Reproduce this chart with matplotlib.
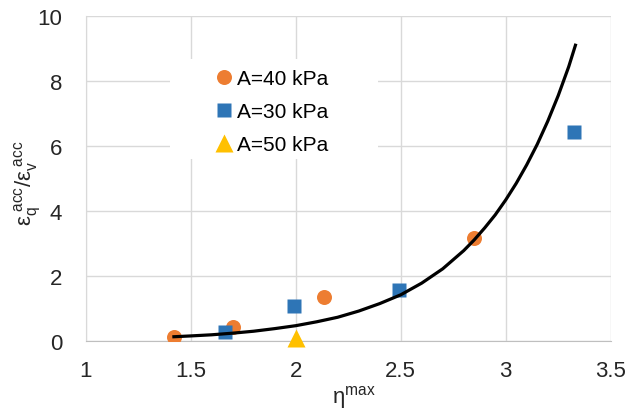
import matplotlib
matplotlib.use('Agg')
from matplotlib import pyplot as plt
from matplotlib.patches import Rectangle

plt.rcParams['font.family'] = ['Liberation Sans', 'DejaVu Sans']
plt.rcParams['mathtext.fontset'] = 'custom'
plt.rcParams['mathtext.rm'] = 'Liberation Sans'
plt.rcParams['mathtext.it'] = 'Liberation Sans'
plt.rcParams['mathtext.default'] = 'regular'

# A=40 kPa
x40 = [1.42, 1.70, 2.135, 2.85]
y40 = [0.12, 0.43, 1.36, 3.17]
# A=30 kPa
x30 = [1.665, 1.99, 2.49, 3.325]
y30 = [0.28, 1.09, 1.57, 6.44]
# A=50 kPa
x50 = [2.0]
y50 = [0.1]

# trend line
xfit = [1.42, 1.5, 1.6, 1.7, 1.8, 1.9, 2.0, 2.1, 2.2, 2.3, 2.4, 2.5, 2.6, 2.7, 2.8,
        2.85, 2.9, 2.95, 3.0, 3.05, 3.1, 3.15, 3.2, 3.25, 3.3, 3.332]
yfit = [0.13, 0.155, 0.19, 0.24, 0.30, 0.38, 0.47, 0.59, 0.73, 0.92, 1.15, 1.42, 1.78,
        2.22, 2.78, 3.11, 3.48, 3.88, 4.34, 4.85, 5.42, 6.05, 6.76, 7.55, 8.44, 9.1]

xticks = [1, 1.5, 2, 2.5, 3, 3.5]
xlabels = ['1', '1.5', '2', '2.5', '3', '3.5']
yticks = [0, 2, 4, 6, 8, 10]

txt = '#262626'

fig = plt.figure(figsize=(6.43, 4.14), dpi=100)
ax = fig.add_axes([0.1333, 0.174, 0.8165, 0.785])

ax.plot(x40, y40, 'o', color='#ED7D31', ms=10.8, mec='none', label='A=40 kPa', zorder=3)
ax.plot(x30, y30, 's', color='#2E75B6', ms=10, mec='none', label='A=30 kPa', zorder=3)
ax.plot(x50, y50, '^', color='#FFC000', ms=13.5, mec='none', label='A=50 kPa', zorder=3,
        clip_on=False)
ax.plot(xfit, yfit, '-', color='black', lw=2.3, zorder=4, solid_joinstyle='round')

ax.set_xlim(1, 3.5)
ax.set_ylim(0, 10)
ax.set_xticks(xticks)
ax.set_xticklabels(xlabels)
ax.set_yticks(yticks)
ax.grid(True, color='#d9d9d9', lw=1)
ax.set_axisbelow(True)
ax.tick_params(length=0, labelsize=16, colors=txt)
ax.tick_params(axis='x', pad=14)
ax.tick_params(axis='y', pad=17)
for s in ['top', 'right']:
    ax.spines[s].set_visible(False)
ax.spines['left'].set_color('#d9d9d9')
ax.spines['bottom'].set_color('#bfbfbf')

ax.set_xlabel('$\u03b7^{max}$', fontsize=16, color=txt)
ax.xaxis.set_label_coords(0.511, -0.13)
ax.set_ylabel('$\u03b5_q^{\\ acc}/\u03b5_v^{\\ acc}$', fontsize=16, color=txt)
ax.yaxis.set_label_coords(-0.082, 0.49)

# white box behind the legend
ax.add_patch(Rectangle((0.16, 0.56), 0.396, 0.308, transform=ax.transAxes,
                       facecolor='white', edgecolor='none', zorder=2))

leg = ax.legend(loc='upper left', bbox_to_anchor=(0.2436, 0.836), fontsize=15, frameon=False,
                handletextpad=0.1, handlelength=1.0, labelspacing=0.67, borderpad=0,
                borderaxespad=0)

fig.savefig('out.png', dpi=100)
